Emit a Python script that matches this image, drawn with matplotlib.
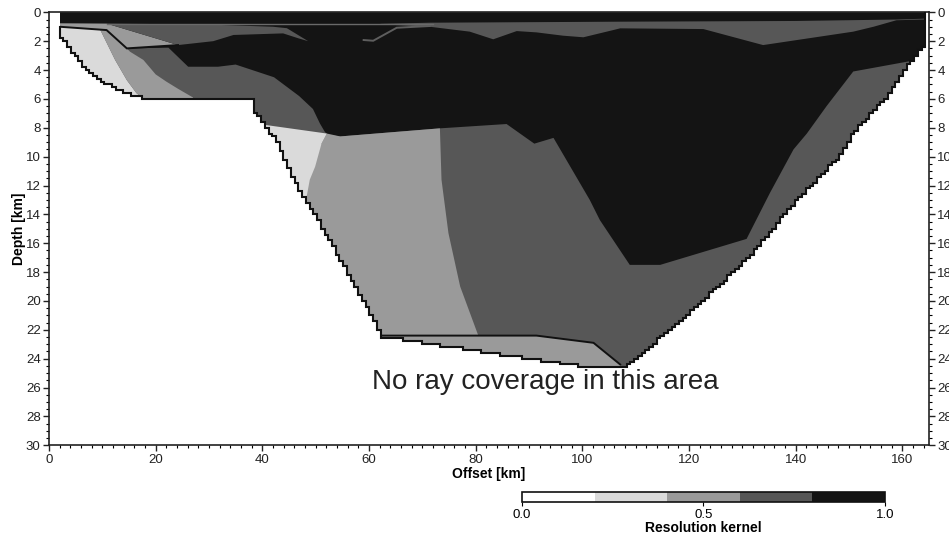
import numpy as np
import matplotlib
matplotlib.use('Agg')
import matplotlib as mpl
import matplotlib.pyplot as plt
from matplotlib.patches import Polygon
from matplotlib.colors import ListedColormap, BoundaryNorm
from matplotlib.ticker import MultipleLocator

plt.rcParams['font.family'] = ['Liberation Sans', 'DejaVu Sans']

# ---------------- data ----------------
kernel_bounds = [0.0, 0.2, 0.4, 0.6, 0.8, 1.0]
kernel_colors = ['#ffffff', '#dadada', '#9a9a9a', '#575757', '#141414']
cbar_ticks = [0.0, 0.5, 1.0]

# lower limit of ray coverage (offset km, depth km)
cover_x = [2.0, 3.6, 6.4, 9.6, 12.7, 15.8, 17.6, 38.6, 38.7, 40.5, 42.7, 46.4,
           52.7, 60.8, 62.4, 62.5, 101.4, 108.3, 122.1, 131.4, 140.8, 148.3,
           150.8, 157.1, 161.4, 163.3, 164.3]
cover_z = [1.6, 2.27, 3.77, 4.7, 5.34, 5.78, 5.9, 5.9, 6.9, 7.8, 8.9, 11.85,
           15.8, 21.2, 22.4, 22.5, 24.6, 24.6, 20.2, 16.9, 12.8, 10.0,
           8.4, 5.85, 3.55, 2.5, 2.3]
cover_top_left = 1.0

# regions of equal resolution-kernel class (value, x vertices, z vertices)
black_val = 0.9
black_x = [2.0, 166.0, 166.0, 161.2, 150.8, 145.8, 142.1, 139.6, 135.2, 130.8,
           114.6, 108.9, 103.3, 101.4, 94.6, 91.0, 85.8, 73.3, 54.6, 52.4,
           51.75, 50.8, 49.5, 46.9, 42.2, 35.0, 31.7, 26.1, 22.4, 14.6, 10.8, 2.0]
black_z = [0.0, 0.0, 3.0, 3.4, 4.1, 6.5, 8.4, 9.5, 12.5, 15.7,
           17.5, 17.5, 14.4, 13.0, 8.7, 9.1, 7.74, 8.04, 8.6, 8.5,
           8.3, 7.7, 6.7, 5.8, 4.5, 3.62, 3.77, 3.77, 2.45, 2.5, 1.23, 1.0]

wedge_val = 0.5
wedge_x = [2.0, 10.8, 24.2, 14.6, 10.8, 2.0]
wedge_z = [0.76, 0.78, 2.27, 2.5, 1.23, 1.0]

band_left_val = 0.7
band_left_x = [10.8, 30.0, 42.0, 44.6, 48.6, 46.75, 43.9, 34.6, 30.8, 24.2]
band_left_z = [0.78, 0.85, 1.0, 1.1, 2.0, 1.8, 1.46, 1.57, 2.0, 2.27]

band_right_val = 0.7
band_right_x = [62.0, 71.4, 107.0, 140.0, 158.9, 166.0, 166.0, 158.9, 154.6,
                150.8, 133.9, 122.7, 107.1, 105.8, 100.2, 96.4, 91.4, 87.7,
                83.3, 78.9, 71.4, 65.0]
band_right_z = [0.8, 0.72, 0.65, 0.6, 0.5, 0.42, 0.48, 0.55, 1.0,
                1.34, 2.27, 1.16, 1.11, 1.23, 1.73, 1.62, 1.39, 1.3,
                1.87, 1.34, 1.0, 0.88]

light_left_val = 0.3
light_left_x = [2.0, 9.6, 12.4, 14.6, 16.4, 17.6, 17.6, 1.0, 1.0]
light_left_z = [1.0, 1.2, 3.3, 4.7, 5.6, 5.95, 7.5, 7.5, 1.0]

mid_left_val = 0.5
mid_left_x = [9.6, 10.8, 14.6, 15.2, 17.7, 20.0, 22.0, 24.2, 27.0, 27.0, 17.6,
              17.6, 16.4, 14.6, 12.4]
mid_left_z = [1.2, 1.23, 2.5, 2.73, 3.3, 4.3, 4.8, 5.3, 5.9, 7.0, 7.0,
              5.95, 5.6, 4.7, 3.3]

mid_trough_val = 0.5
mid_trough_x = [52.1, 54.6, 73.3, 73.6, 74.9, 77.1, 80.5, 55.0, 45.0, 51.1]
mid_trough_z = [8.4, 8.6, 8.04, 11.6, 15.3, 19.0, 22.4, 22.4, 13.0, 9.1]

light_tri_val = 0.3
light_tri_x = [40.5, 52.1, 51.1, 49.9, 48.9, 48.3, 47.5, 38.0]
light_tri_z = [7.8, 8.4, 9.1, 10.7, 11.6, 12.8, 14.0, 8.5]

mid_bottom_val = 0.5
mid_bottom_x = [62.4, 91.4, 102.1, 107.1, 109.0, 60.0]
mid_bottom_z = [22.4, 22.4, 22.9, 24.4, 26.0, 26.0]

# interface lines
line_top_x = [2.0, 10.8, 14.6, 24.2]
line_top_z = [1.0, 1.23, 2.5, 2.27]
line_bot_x = [62.4, 91.4, 102.1, 107.1]
line_bot_z = [22.4, 22.4, 22.9, 24.4]
thin_x = [10.8, 72.0]
thin_z = [0.78, 0.78]
sliver_x = [59.0, 60.8, 65.2, 71.4]
sliver_z = [1.92, 1.97, 1.07, 0.95]

# ---------------- figure ----------------
fig = plt.figure(figsize=(9.49, 5.40), dpi=100)
ax = fig.add_axes([0.0516, 0.1754, 0.9273, 0.8018])
cmap = ListedColormap(kernel_colors)
norm = BoundaryNorm(kernel_bounds, cmap.N)

# stair-stepped coverage outline (model cells)
dx, dz = 0.7, 0.2
n = int(round((cover_x[-1] - cover_x[0]) / dx))
edges = np.linspace(cover_x[0], cover_x[-1], n + 1)
centers = 0.5 * (edges[:-1] + edges[1:])
depth = np.round(np.interp(centers, cover_x, cover_z) / dz) * dz
px = np.concatenate([[edges[0]], np.repeat(edges, 2)[1:-1], [edges[-1]]])
pz = np.concatenate([[0.0], np.repeat(depth, 2), [0.0]])
cover_patch = Polygon(np.column_stack([px, pz]), closed=True,
                      facecolor=cmap(norm(0.7)), edgecolor='none', zorder=1)
ax.add_patch(cover_patch)

regions = [
    (black_val, black_x, black_z),
    (wedge_val, wedge_x, wedge_z),
    (band_left_val, band_left_x, band_left_z),
    (band_right_val, band_right_x, band_right_z),
    (light_left_val, light_left_x, light_left_z),
    (mid_left_val, mid_left_x, mid_left_z),
    (mid_trough_val, mid_trough_x, mid_trough_z),
    (light_tri_val, light_tri_x, light_tri_z),
    (mid_bottom_val, mid_bottom_x, mid_bottom_z),
]
for val, rx, rz in regions:
    p = Polygon(np.column_stack([rx, rz]), closed=True,
                facecolor=cmap(norm(val)), edgecolor='none', zorder=2)
    ax.add_patch(p)
    p.set_clip_path(cover_patch)

for lx, lz, col, lw in [(thin_x, thin_z, '#6a6a6a', 1.0),
                        (sliver_x, sliver_z, '#5e5e5e', 1.4),
                        (line_top_x, line_top_z, '#111111', 1.4),
                        (line_bot_x, line_bot_z, '#111111', 1.4)]:
    ln, = ax.plot(lx, lz, color=col, lw=lw, zorder=3, solid_joinstyle='miter')
    ln.set_clip_path(cover_patch)

# coverage outline
ax.stairs(depth, edges, baseline=None, color='#111111', lw=1.5, zorder=4)
ax.plot([edges[0], edges[0]], [cover_top_left, depth[0]], color='#111111', lw=1.5, zorder=4)
ax.plot([edges[-1], edges[-1]], [0.0, depth[-1]], color='#111111', lw=1.5, zorder=4)

ax.text(93, 25.6, 'No ray coverage in this area', fontsize=20, color='#222222',
        ha='center', va='center', zorder=5)

ax.set_xlim(0, 165)
ax.set_ylim(30, 0)
ax.xaxis.set_major_locator(MultipleLocator(20))
ax.xaxis.set_minor_locator(MultipleLocator(2))
ax.yaxis.set_major_locator(MultipleLocator(2))
ax.yaxis.set_minor_locator(MultipleLocator(0.5))
ax.tick_params(axis='both', which='major', labelsize=9.5, length=4, width=1.0,
               direction='out', colors='#222222', pad=2)
ax.tick_params(axis='both', which='minor', length=2, width=0.8, direction='out')
ax.tick_params(axis='y', which='both', right=True, labelright=True)
ax.tick_params(axis='x', which='both', top=False)
for s in ax.spines.values():
    s.set_linewidth(1.2)
    s.set_color('#222222')
ax.set_xlabel('Offset [km]', fontsize=10, fontweight='bold', labelpad=1)
ax.set_ylabel('Depth [km]', fontsize=10, fontweight='bold', labelpad=0)

# colorbar
cax = fig.add_axes([0.550, 0.0704, 0.3825, 0.0185])
cb = mpl.colorbar.ColorbarBase(cax, cmap=cmap, norm=norm, orientation='horizontal',
                               ticks=cbar_ticks, format='%.1f')
cb.outline.set_linewidth(1.2)
cb.outline.set_edgecolor('#111111')
cax.tick_params(labelsize=9.5, length=3, width=0.8, pad=2)
cax.xaxis.set_minor_locator(MultipleLocator(1.0))
cax.tick_params(which='minor', length=0)
cb.set_label('Resolution kernel', fontsize=10, fontweight='bold', labelpad=0)

fig.savefig('out.png', dpi=100)
